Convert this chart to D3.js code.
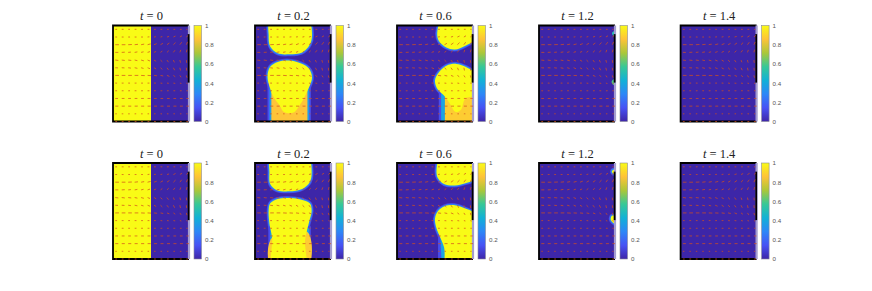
<!DOCTYPE html>
<html><head><meta charset="utf-8">
<script src="https://cdn.jsdelivr.net/npm/d3@7/dist/d3.min.js"></script>
<style>html,body{margin:0;background:#fff}svg{display:block}</style></head>
<body><div id="c"></div>
<script>
const titles = ["0","0.2","0.6","1.2","1.4"];
const cbTicks = [0,0.2,0.4,0.6,0.8,1];
const parula = ["#3e26a8","#4752f4","#2d87f7","#12b1d6","#37c897","#abc739","#fec338","#f9fb15"];
const gridRows = [0.04,0.12,0.2,0.28,0.36,0.44,0.52,0.6,0.68,0.76,0.84,0.92,1.0];
const gridCols = [0.03,0.115,0.2,0.285,0.37,0.455,0.54,0.625,0.71,0.795,0.88,0.965];
// arrow components, percent of panel size
const U = [
[2.4,2.4,2.4,2.4,2.4,2.4,2.4,2.4,2.4,2.4,2.4,1.6],
[2.4,2.4,2.4,2.4,2.4,2.4,2.4,2.4,2.8,2.8,2.8,2.4],
[4.8,4.8,4.8,4.4,4,4,3.6,3.2,3.2,2.8,2.4,1.6],
[4,4,3.6,3.6,3.2,3.2,2.8,2.4,2.4,2,1.2,0.8],
[4,4,4,3.6,3.6,3.2,2.8,2.4,2,1.2,0.8,0.4],
[3.6,3.6,3.6,3.6,3.2,3.2,2.8,2.4,2,1.6,0.8,0.4],
[4.8,4.8,4.8,4.8,4.8,4.4,4,3.6,3.2,2.4,1.6,0.8],
[2.4,2.4,2.4,2.4,2.4,2.4,2.4,2.4,2.4,2.4,2,1.6],
[2.4,2.4,2.4,2.4,2.4,2.4,2.4,2.4,2.4,2.4,2.4,2],
[3.6,3.6,3.6,3.6,3.6,3.6,3.6,3.6,3.6,3.6,3.6,3.2],
[4,4,4,4,4,4,4,4,4,4,4,3.6],
[2,2,2,2,2,2,2,2,2,2,2,1.6],
[2.4,2.4,2.4,2.4,2.4,2.4,2.4,2.4,2.4,2.4,2.4,2.4]];
const V = [
[0,0,0,0,0,0,0,0,0,0,0,0],
[0,0,0,0,0,0.2,0.3,0.4,0.6,1,1.3,1.6],
[0,0,0.2,0.4,0.6,0.8,1.1,1.4,1.8,2.2,2.6,2.9],
[0,0.2,0.3,0.5,0.6,0.8,1,1.4,1.8,2.2,2.6,2.9],
[-0.4,-0.4,-0.4,-0.6,-0.8,-1,-1.3,-1.8,-2.2,-2.4,-2.7,-2.9],
[-0.2,-0.2,-0.4,-0.6,-0.7,-1,-1.3,-1.8,-2.2,-2.6,-2.9,-3],
[0,0,0,0,-0.2,-0.2,-0.4,-0.6,-1,-1.4,-2,-2.4],
[0,0,0,0,0,0,0,-0.2,-0.2,-0.3,-0.4,-0.5],
[0,0,0,0,0,0,0,0,0,0,0,0],
[0,0,0,0,0,0,0,0,0,0,0,0],
[0,0,0,0,0,0,0,0,0,0,0,0],
[0,0,0,0,0,0,0,0,0,0,0,0],
[0,0,0,0,0,0,0,0,0,0,0,0]];
// phase regions: [value, edge?, outline points in panel fractions]
const topRegions = [
 [[1,0,[[0,0],[0.5,0],[0.5,1],[0,1]]]],
 [[0.13,0,[[0.165,0.6],[0.735,0.6],[0.735,1.1],[0.165,1.1]]],
  [0.35,0,[[0.19,0.62],[0.715,0.62],[0.715,1.1],[0.19,1.1]]],
  [0.86,0,[[0.215,0.62],[0.69,0.62],[0.69,1.1],[0.215,1.1]]],
  [1,1,[[0.2,-0.05],[0.18,0.1],[0.2,0.22],[0.3,0.29],[0.45,0.3],[0.62,0.28],[0.72,0.2],[0.75,0.1],[0.7,-0.05]]],
  [1,1,[[0.3,0.38],[0.2,0.43],[0.165,0.53],[0.2,0.66],[0.24,0.74],[0.33,0.84],[0.38,0.9],[0.5,0.91],[0.58,0.84],[0.68,0.7],[0.75,0.54],[0.7,0.44],[0.55,0.38],[0.42,0.365]]]],
 [[0.13,0,[[0.55,0.66],[0.7,0.66],[0.7,1.1],[0.55,1.1]]],
  [0.38,0,[[0.58,0.7],[0.7,0.7],[0.7,1.1],[0.58,1.1]]],
  [0.88,0,[[0.63,0.7],[1.05,0.7],[1.05,1.1],[0.63,1.1]]],
  [1,1,[[0.59,-0.05],[0.53,0.07],[0.55,0.16],[0.65,0.23],[0.76,0.25],[0.9,0.21],[1.05,0.13],[1.05,-0.05]]],
  [1,1,[[1.05,0.52],[0.9,0.43],[0.78,0.4],[0.65,0.42],[0.55,0.49],[0.5,0.57],[0.53,0.66],[0.63,0.74],[0.7,0.82],[0.77,0.9],[0.84,0.88],[0.9,0.76],[1.05,0.72]]]],
 [[0.5,0,[[0.96,0.08],[0.985,0.06],[1.02,0.09],[0.985,0.11]]],
  [0.6,0,[[0.955,0.59],[0.98,0.56],[1.02,0.58],[0.985,0.62]]]],
 []
];
const botRegions = [
 [[1,0,[[0,0],[0.5,0],[0.5,1],[0,1]]]],
 [[0.13,0,[[0.175,0.66],[0.735,0.66],[0.735,1.1],[0.175,1.1]]],
  [0.38,0,[[0.2,0.68],[0.715,0.68],[0.715,1.1],[0.2,1.1]]],
  [0.88,0,[[0.22,0.78],[0.69,0.72],[0.69,1.1],[0.22,1.1]]],
  [1,1,[[0.21,-0.05],[0.19,0.1],[0.2,0.22],[0.28,0.28],[0.45,0.295],[0.62,0.27],[0.72,0.2],[0.745,0.1],[0.7,-0.05]]],
  [1,1,[[0.3,0.375],[0.2,0.42],[0.18,0.5],[0.19,0.63],[0.225,0.78],[0.24,1.1],[0.65,1.1],[0.66,0.8],[0.71,0.62],[0.745,0.5],[0.72,0.42],[0.6,0.38],[0.42,0.365]]]],
 [[0.13,0,[[0.54,0.74],[0.7,0.74],[0.7,1.1],[0.54,1.1]]],
  [0.38,0,[[0.57,0.76],[0.7,0.76],[0.7,1.1],[0.59,1.1]]],
  [1,1,[[0.57,-0.05],[0.52,0.08],[0.54,0.16],[0.62,0.22],[0.76,0.235],[0.9,0.21],[1.05,0.16],[1.05,-0.05]]],
  [1,1,[[1.05,0.55],[0.88,0.47],[0.76,0.44],[0.63,0.45],[0.54,0.5],[0.5,0.58],[0.52,0.68],[0.56,0.76],[0.62,0.88],[0.66,1.1],[1.05,1.1]]]],
 [[1,1,[[0.96,0.09],[0.98,0.07],[1.03,0.09],[0.99,0.115]]],
  [1,1,[[0.945,0.59],[0.96,0.55],[1.03,0.56],[1.0,0.63]]]],
 []
];
const wall = [0.09,0.595];

const W=872,H=291;
const panelLefts=[113,255,397,539,680.6], panelW=76, panelH=96;
const rowsSpec=[{top:25.5,regions:topRegions,titleY:20},{top:163,regions:botRegions,titleY:157.5}];
const color=d3.scaleLinear().domain(parula.map((_,i)=>i/7)).range(parula).interpolate(d3.interpolateRgb);
const svg=d3.select("#c").append("svg").attr("width",W).attr("height",H);
const defs=svg.append("defs");
const f=defs.append("filter").attr("id","soft").attr("x","-5%").attr("y","-5%").attr("width","110%").attr("height","110%");
f.append("feGaussianBlur").attr("stdDeviation",0.5);
const grad=defs.append("linearGradient").attr("id","cb").attr("x1",0).attr("x2",0).attr("y1",1).attr("y2",0);
parula.forEach((c,i)=>grad.append("stop").attr("offset",i/7).attr("stop-color",c));
rowsSpec.forEach((row,ri)=>{
 panelLefts.forEach((left,pi)=>{
  const x=d3.scaleLinear().domain([0,1]).range([left,left+panelW]);
  const y=d3.scaleLinear().domain([0,1]).range([row.top,row.top+panelH]);
  const g=svg.append("g");
  const id=`clip${ri}${pi}`;
  defs.append("clipPath").attr("id",id).append("rect").attr("x",left).attr("y",row.top).attr("width",panelW).attr("height",panelH);
  const body=g.append("g").attr("clip-path",`url(#${id})`).append("g").attr("filter","url(#soft)");
  body.append("rect").attr("x",left-2).attr("y",row.top-2).attr("width",panelW+4).attr("height",panelH+4).attr("fill",color(0));
  const rect=d3.line().x(d=>x(d[0])).y(d=>y(d[1])).curve(d3.curveLinearClosed);
  const smooth=d3.line().x(d=>x(d[0])).y(d=>y(d[1])).curve(d3.curveCatmullRomClosed.alpha(0.5));
  const pathOf=pts=>(pts.length===4&&pts[0][1]===pts[1][1]?rect:smooth)(pts);
  const regs=row.regions[pi];
  regs.filter(r=>r[1]).forEach(([v,edge,pts])=>{
    [[4,0.1],[2.8,0.2],[1.5,0.32]].forEach(([w,c])=>
     body.append("path").attr("d",pathOf(pts)).attr("fill","none").attr("stroke",color(c)).attr("stroke-width",w).attr("stroke-linejoin","round"));
  });
  regs.forEach(([v,edge,pts])=>{
   body.append("path").attr("d",pathOf(pts)).attr("fill",color(v));
  });
  // frame
  const frame=g.append("g").attr("filter","url(#soft)");
  frame.append("path").attr("d",`M${x(1)},${y(0)}H${x(0)}V${y(1)}H${x(1)}`).attr("fill","none").attr("stroke","#000").attr("stroke-width",1.8);
  frame.append("line").attr("x1",x(1)).attr("x2",x(1)).attr("y1",y(0)).attr("y2",y(1)).attr("stroke","#a49dcf").attr("stroke-width",2.2);
  frame.append("line").attr("x1",x(1)-0.4).attr("x2",x(1)-0.4).attr("y1",y(wall[0])).attr("y2",y(wall[1])).attr("stroke","#000").attr("stroke-width",1.8);
  // quiver
  const arrows=[];
  gridRows.forEach((r,i)=>gridCols.forEach((c,j)=>arrows.push({c,r,u:U[i][j],v:V[i][j]})));
  g.append("g").attr("filter","url(#soft)").selectAll("path").data(arrows).join("path")
   .attr("d",d=>`M${x(d.c)},${y(d.r)}L${x(d.c+d.u/100)},${y(d.r-d.v/100)}`)
   .attr("stroke","#d2501a").attr("stroke-width",0.85).attr("stroke-opacity",0.85).attr("fill","none");
  // title
  const t=g.append("text").attr("x",x(0.5)+0.5).attr("y",row.titleY).attr("text-anchor","middle")
    .attr("font-family","'Liberation Serif',serif").attr("font-size",12.5).attr("fill","#222");
  t.append("tspan").attr("font-style","italic").text("t");
  t.append("tspan").text(" = "+titles[pi]);
  // colorbar
  const cx=left+81, cw=7.5;
  const cs=d3.scaleLinear().domain([0,1]).range([row.top+panelH,row.top]);
  g.append("rect").attr("x",cx).attr("y",row.top).attr("width",cw).attr("height",panelH).attr("fill","url(#cb)").attr("stroke","#8a8a9a").attr("stroke-width",0.6);
  const ax=g.append("g").attr("transform",`translate(${cx+cw},0)`)
    .call(d3.axisRight(cs).tickValues(cbTicks).tickSize(0).tickPadding(3.5).tickFormat(d=>String(d)));
  ax.select(".domain").remove();
  ax.selectAll("text").attr("font-family","'Liberation Sans',sans-serif").attr("font-size",6.2).attr("fill","#555");
 });
});
</script></body></html>
